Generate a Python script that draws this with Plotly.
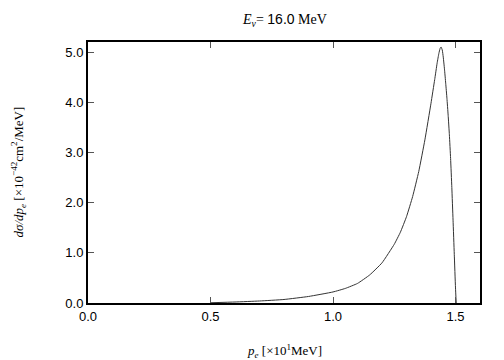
import plotly.graph_objects as go

# momentum p_e [x10^1 MeV]
p_e = [0.5, 0.6, 0.7, 0.8, 0.9, 1.0, 1.05, 1.1, 1.15, 1.2, 1.25, 1.275, 1.3, 1.325,
       1.35, 1.375, 1.4, 1.415, 1.425, 1.432, 1.437, 1.441, 1.446, 1.45, 1.455, 1.46,
       1.465, 1.47, 1.475, 1.48, 1.485, 1.49, 1.495, 1.5, 1.503]
# d sigma / d p_e [x10^-42 cm^2/MeV]
dsig = [0.005, 0.02, 0.04, 0.07, 0.13, 0.22, 0.29, 0.39, 0.56, 0.8, 1.17, 1.41, 1.72, 2.12,
        2.62, 3.25, 3.98, 4.45, 4.78, 4.97, 5.07, 5.1, 5.04, 4.9, 4.66, 4.38,
        4.08, 3.74, 3.35, 2.88, 2.3, 1.65, 0.97, 0.3, 0.0]

x_ticks = [0.0, 0.5, 1.0, 1.5]
y_ticks = [0.0, 1.0, 2.0, 3.0, 4.0, 5.0]

serif = "Liberation Serif"
sans = "Liberation Sans"

fig = go.Figure()
fig.add_trace(go.Scatter(x=p_e, y=dsig, mode="lines",
                         line=dict(color="#333333", width=1, shape="spline", smoothing=0.4),
                         showlegend=False, hoverinfo="skip"))

axis_common = dict(showline=True, linecolor="black", linewidth=2, mirror="ticks",
                   ticks="inside", ticklen=6, tickcolor="#555555", tickwidth=1,
                   showgrid=False, zeroline=False,
                   tickfont=dict(family=sans, size=13, color="black"),
                   tickformat=".1f")

fig.update_layout(
    width=504, height=360,
    margin=dict(l=88, r=24, t=42, b=57),
    paper_bgcolor="white", plot_bgcolor="white",
    xaxis=dict(range=[0, 1.6], tickvals=x_ticks, **axis_common),
    yaxis=dict(range=[0, 5.2], tickvals=y_ticks, **axis_common),
    annotations=[
        dict(text=f"<i>E<sub>ν</sub></i>= <span style='font-family:{sans}'>16.0</span> MeV",
             x=0.5, y=1, xref="paper", yref="paper", yshift=22,
             showarrow=False, font=dict(family=serif, size=14, color="black"),
             xanchor="center", yanchor="middle"),
        dict(text="<i>p<sub>e</sub></i> [×10<sup>1</sup>MeV]",
             x=0.5, y=0, xref="paper", yref="paper", yshift=-48,
             showarrow=False, font=dict(family=serif, size=13, color="black"),
             xanchor="center", yanchor="middle"),
        dict(text="<i>dσ/dp<sub>e</sub></i> [×10<sup>−42</sup>cm<sup>2</sup>/MeV]",
             x=0, y=0.5, xref="paper", yref="paper", xshift=-70,
             showarrow=False, textangle=-90,
             font=dict(family=serif, size=13, color="black"),
             xanchor="center", yanchor="middle"),
    ],
)

fig.write_html("out.html", config={"displayModeBar": False},
               post_script="document.body.style.margin='0';document.body.style.padding='0';")
